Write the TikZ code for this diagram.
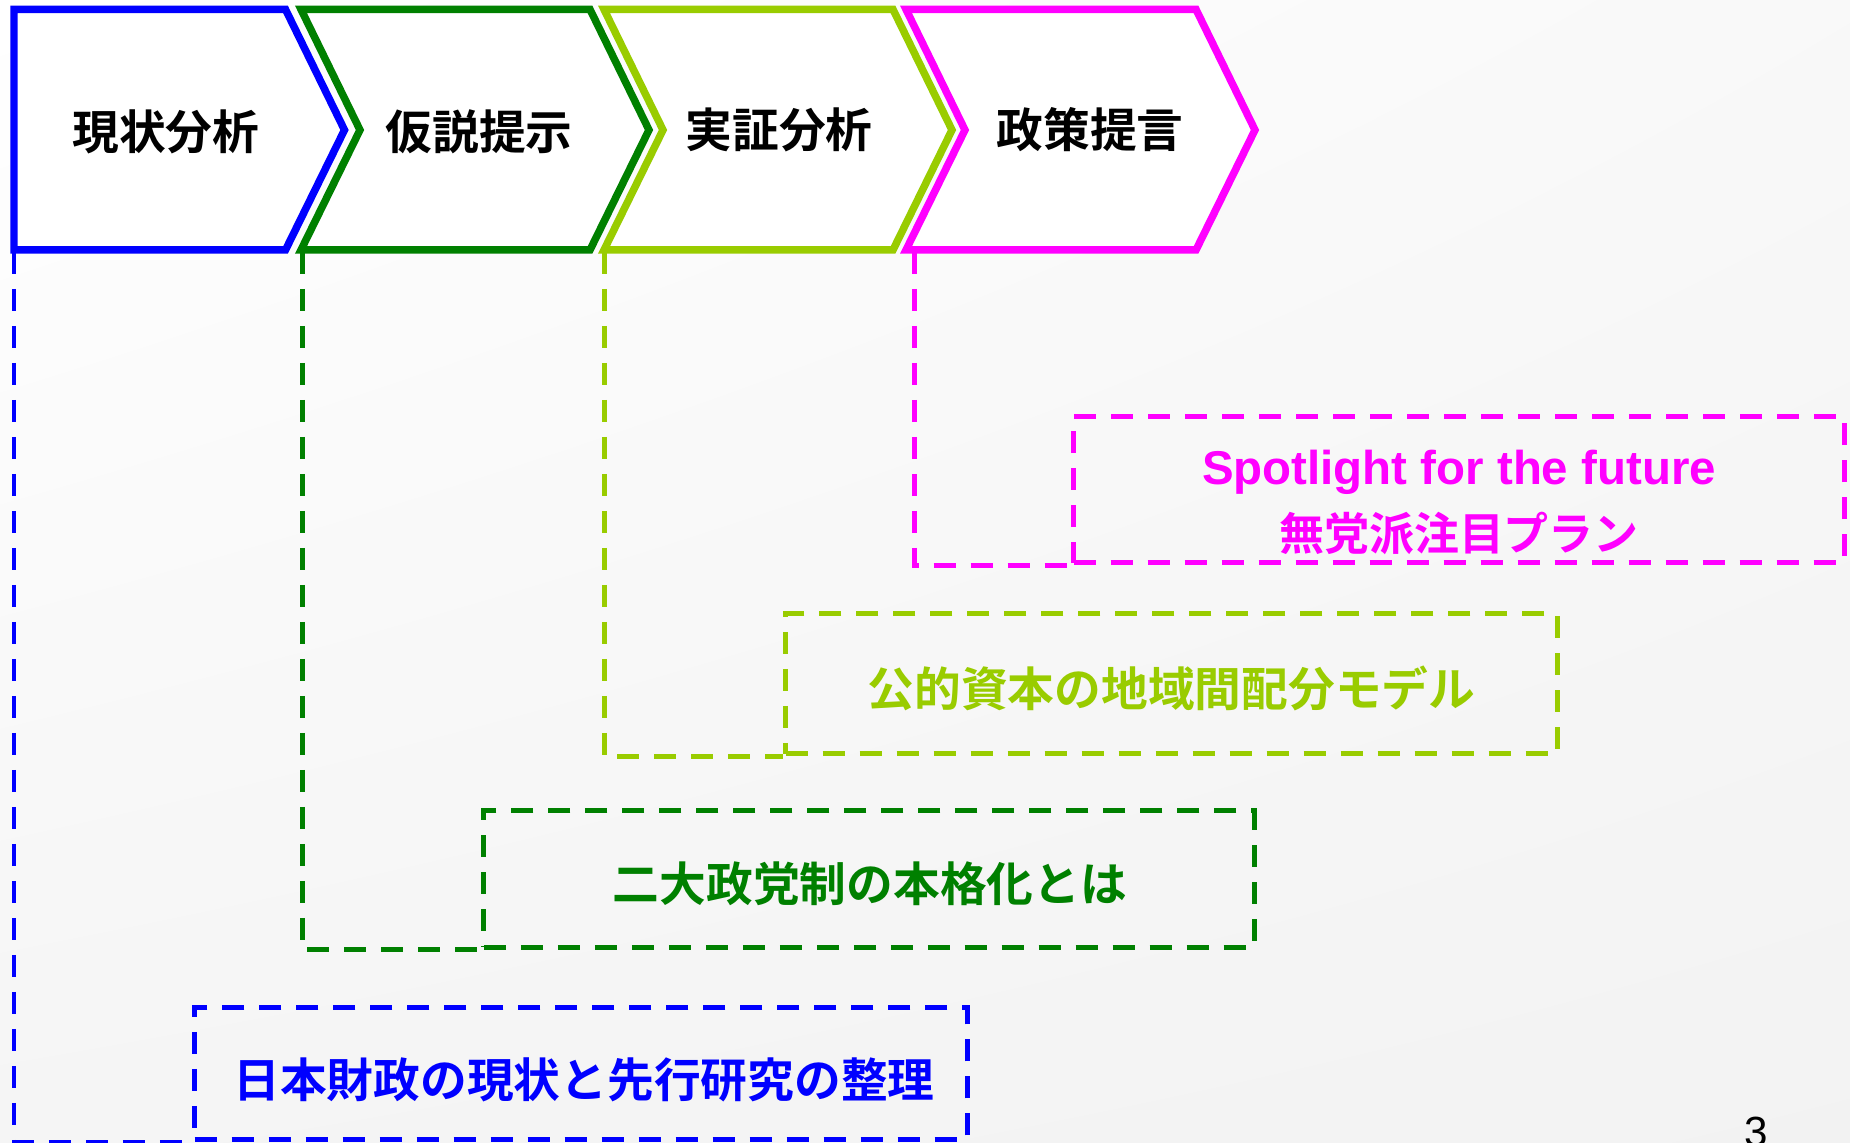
\documentclass[tikz,border=0pt]{standalone}
\usepackage{fontspec}
\usetikzlibrary{shadings}
\setmainfont{Liberation Sans}
\newfontfamily\jp{Noto Sans CJK JP Bold}
\definecolor{cblue}{RGB}{0,0,255}
\definecolor{cgreen}{RGB}{0,128,0}
\definecolor{cyg}{RGB}{153,204,0}
\definecolor{cmag}{RGB}{255,0,255}
\tikzset{
  chev/.style={line width=0.75mm, fill=white, line join=miter},
  chevtext/.style={font=\jp\fontsize{13.3pt}{16pt}\selectfont, text=black, inner sep=0pt},
  dline/.style={line width=0.5mm, dash pattern=on 2.2mm off 1.5mm},
  dbox/.style={dline, rectangle, inner sep=0pt},
  btext/.style={font=\jp\fontsize{13.3pt}{16pt}\selectfont, inner sep=0pt},
}
\begin{document}
\begin{tikzpicture}[x=0.1mm, y=-0.1mm]
\useasboundingbox (0,0) rectangle (1850,1143);
\shade[upper left=white, upper right=gray!5, lower left=gray!8, lower right=gray!10] (0,0) rectangle (1850,1143);

% chevrons
\draw[chev, draw=cblue] (14,9.4) -- (285.5,9.4) -- (344.5,130) -- (285.5,250) -- (14,250) -- cycle;
\draw[chev, draw=cgreen] (301,9.4) -- (590,9.4) -- (649,130) -- (590,250) -- (301,250) -- (360,130) -- cycle;
\draw[chev, draw=cyg] (604,9.4) -- (893,9.4) -- (952,130) -- (893,250) -- (604,250) -- (663,130) -- cycle;
\draw[chev, draw=cmag] (906,9.4) -- (1196,9.4) -- (1255,130) -- (1196,250) -- (906,250) -- (965,130) -- cycle;

\node[chevtext] (t1) at (166,132) {現状分析};
\node[chevtext] (t2) at (479,132) {仮説提示};
\node[chevtext] (t3) at (779,130) {実証分析};
\node[chevtext] (t4) at (1090,130) {政策提言};

% anchor points at chevron bottoms
\coordinate (c1) at (14,252);
\coordinate (c2) at (302,252);
\coordinate (c3) at (604,252);
\coordinate (c4) at (914,252);

% dashed boxes
\node[dbox, draw=cmag, minimum width=77.04mm, minimum height=14.63mm] (b4) at (1458.8,489.6) {};
\node[dbox, draw=cyg, minimum width=77.16mm, minimum height=14.05mm] (b3) at (1171.5,683.75) {};
\node[dbox, draw=cgreen, minimum width=77.03mm, minimum height=13.69mm] (b2) at (868.9,879) {};
\node[dbox, draw=cblue, minimum width=77.27mm, minimum height=13.22mm] (b1) at (581,1073.6) {};

% box texts
\node[font=\fontsize{13.5pt}{16pt}\selectfont\bfseries, text=cmag, inner sep=0pt] (b4t1) at (1459,472) {Spotlight for the future};
\node[font=\jp\fontsize{12.8pt}{16pt}\selectfont, text=cmag, inner sep=0pt] (b4t2) at (1459,533) {無党派注目プラン};
\node[btext, text=cyg] (b3t) at (1171.5,688) {公的資本の地域間配分モデル};
\node[btext, text=cgreen] (b2t) at (870,884) {二大政党制の本格化とは};
\node[btext, text=cblue] (b1t) at (584,1080) {日本財政の現状と先行研究の整理};

% dashed connectors
\draw[dline, draw=cblue] (c1) |- (b1.south west);
\draw[dline, draw=cgreen] (c2) |- (b2.south west);
\draw[dline, draw=cyg] (c3) |- (b3.south west);
\draw[dline, draw=cmag] (c4) |- (b4.south west);

\node[anchor=base, font=\fontsize{12pt}{14pt}\selectfont, inner sep=0pt] (pg) at (1756,1147) {3};
\end{tikzpicture}
\end{document}
